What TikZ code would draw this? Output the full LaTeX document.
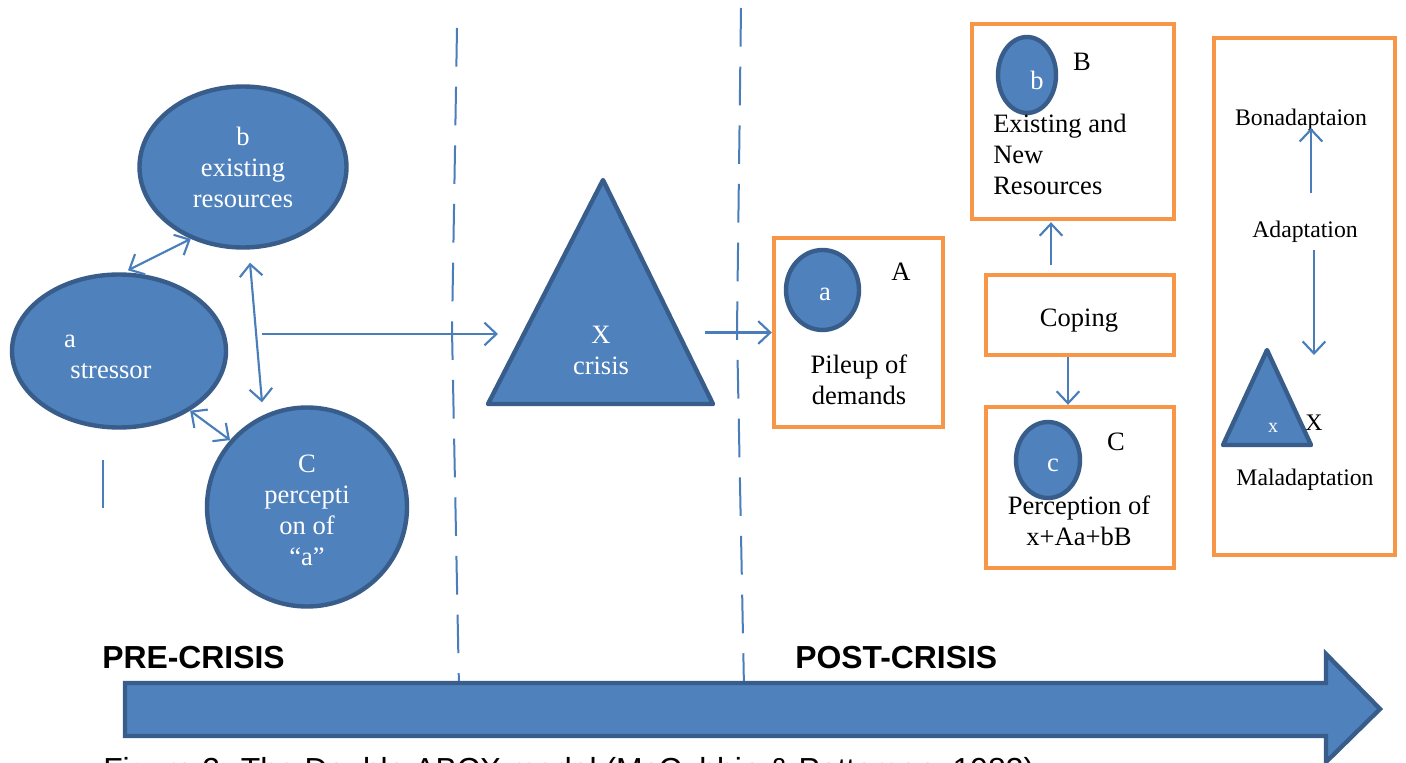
\documentclass[tikz,border=0pt]{standalone}
\usepackage{fontspec}
\setmainfont{Liberation Serif}
\newfontfamily\arialfont{Liberation Sans}
\usetikzlibrary{arrows.meta,shapes.geometric}
\definecolor{bfill}{HTML}{4F81BD}
\definecolor{bdr}{HTML}{385D8A}
\definecolor{lnc}{HTML}{4A7EBB}
\definecolor{orng}{HTML}{F79646}
\newcommand\txtfont{\fontsize{19.9}{23.25}\selectfont}
\newcommand\smtxtfont{\fontsize{17.8}{21}\selectfont}
\newcommand\hdfont{\arialfont\bfseries\fontsize{23.9}{28}\selectfont}
\newcommand\capfont{\arialfont\fontsize{23.9}{28}\selectfont}
\begin{document}
\begin{tikzpicture}[x=0.75pt,y=-0.75pt,
  blob/.style={ellipse,draw=bdr,fill=bfill,line width=3.3pt,inner sep=0pt},
  obox/.style={rectangle,draw=orng,line width=3.3pt,inner sep=0pt},
  wt/.style={text=white,font=\txtfont,align=center,inner sep=0pt},
  bt/.style={text=black,font=\txtfont,align=center,inner sep=0pt},
  st/.style={text=black,font=\smtxtfont,align=center,inner sep=0pt},
  conn/.style={draw=lnc,line width=1.6pt},
  arr/.style={conn,-{Straight Barb[length=9pt,width=17pt]}},
  dbl/.style={conn,{Straight Barb[length=9pt,width=17pt]}-{Straight Barb[length=9pt,width=17pt]}},
  dashline/.style={draw=lnc,line width=1.5pt,dash pattern=on 29pt off 15pt},
  shapeline/.style={draw=bdr,fill=bfill,line width=3.3pt,line join=round}]
\useasboundingbox (0,0) rectangle (1406,763);
\fill[white] (0,0) rectangle (1406,763);

% dashed separators
\draw[dashline] (457,28) -- (452,330) -- (459,688);
\draw[dashline] (741,8) -- (737,330) -- (744,688);

% left cluster
\node[blob,minimum width=155.25pt,minimum height=120.75pt] (b) at (243,167) {};
\node[blob,minimum width=160.5pt,minimum height=114.75pt] (a) at (119,351) {};
\node[blob,minimum width=150pt,minimum height=149.25pt] (C) at (307,507) {};
\node[wt] (btxt) at (243,167) {b\\existing\\resources};
\node[wt] (atxt1) at (70,341) {a};
\node[wt] (atxt2) at (111,371) {stressor};
\node[wt] (Ctxt) at (307,510) {C\\percepti\\on of\\“a”};

\draw[dbl] ([shift={(9,-2)}]a.north) -- (b.234);
\draw[dbl] ([shift={(7,13)}]b.south) -- ([shift={(-45,-3)}]C.north);
\draw[dbl] (a.-40) -- (C.139);

\draw[conn] (103,460) -- (103,508);

% crisis triangle
\draw[shapeline] (603,180) -- (713,404) -- (488,404) -- cycle;
\node[wt] (X) at (601,350) {X\\crisis};
\coordinate (hs) at (262,334);
\coordinate (Xin) at (498,334);
\coordinate (Xout) at (705,332.5);
\draw[arr] (hs) -- (Xin);

% box A
\node[obox,minimum width=126.75pt,minimum height=141.75pt] (A) at (858.5,332.5) {};
\draw[arr] (Xout) -- (A.west);
\node[blob,minimum width=54.75pt,minimum height=60pt] (ca) at (822.5,290) {};
\node[wt] (catxt) at (825,294) {a};
\node[bt] (Alab) at (901,272) {A};
\node[bt] (Atxt) at (859,380) {Pileup of\\demands};

% box B
\node[obox,minimum width=151.5pt,minimum height=146.25pt] (B) at (1073,121.5) {};
\node[blob,minimum width=43.5pt,minimum height=57pt] (cb) at (1027,75) {};
\node[wt] (cbtxt) at (1037,80) {b};
\node[bt] (Blab) at (1082,62) {B};
\node[bt,align=left,anchor=west] (Btxt) at (993,154) {Existing and\\New\\Resources};

% coping
\node[obox,minimum width=141pt,minimum height=60pt] (Cop) at (1080,315) {};
\node[bt] (Coptxt) at (1079,321) {Coping};
\draw[arr] ([shift={(-29,-8)}]Cop.north) -- ([shift={(-22,1)}]B.south);

% box C
\node[obox,minimum width=141pt,minimum height=120.75pt] (Cb) at (1080,487.5) {};
\draw[arr] ([shift={(-12,0)}]Cop.south) -- ([shift={(-12,0)}]Cb.north);
\node[blob,minimum width=48pt,minimum height=57pt] (cc) at (1048,460) {};
\node[wt] (cctxt) at (1053,465) {c};
\node[bt] (Clab) at (1116,442) {C};
\node[bt] (Cbtxt) at (1079,521) {Perception of\\x+Aa+bB};

% right box
\node[obox,minimum width=135.75pt,minimum height=387.75pt] (R) at (1304.5,296.5) {};
\node[st] (Bon) at (1301,120) {Bonadaptaion};
\node[st] (Ad) at (1305,232) {Adaptation};
\node[st] (Mal) at (1305,480) {Maladaptation};
\coordinate (adU) at (1311,193);
\coordinate (bonB) at (1311,128);
\coordinate (adD) at (1314,250);
\coordinate (malT) at (1314,355);
\draw[arr] (adU) -- (bonB);
\draw[arr] (adD) -- (malT);
\draw[shapeline] (1267,350) -- (1311,445) -- (1223,445) -- cycle;
\node[text=white,font=\fontsize{15}{18}\selectfont,inner sep=0pt] (xs) at (1273,428) {x};
\node[st] (xl) at (1314,423) {X};

% timeline arrow
\draw[shapeline,line join=miter] (125,683) -- (1326,683) -- (1326,654) -- (1380,709) -- (1326,762) -- (1326,736) -- (125,736) -- cycle;
\node[font=\hdfont,anchor=west,inner sep=0pt] (pre) at (102,658) {PRE-CRISIS};
\node[font=\hdfont,anchor=west,inner sep=0pt] (post) at (795,658) {POST-CRISIS};
\node[font=\capfont,anchor=base west,inner sep=0pt] (cap) at (103,780) {Figure 2. The Double ABCX model (McCubbin \& Patterson, 1983)};
\end{tikzpicture}
\end{document}
